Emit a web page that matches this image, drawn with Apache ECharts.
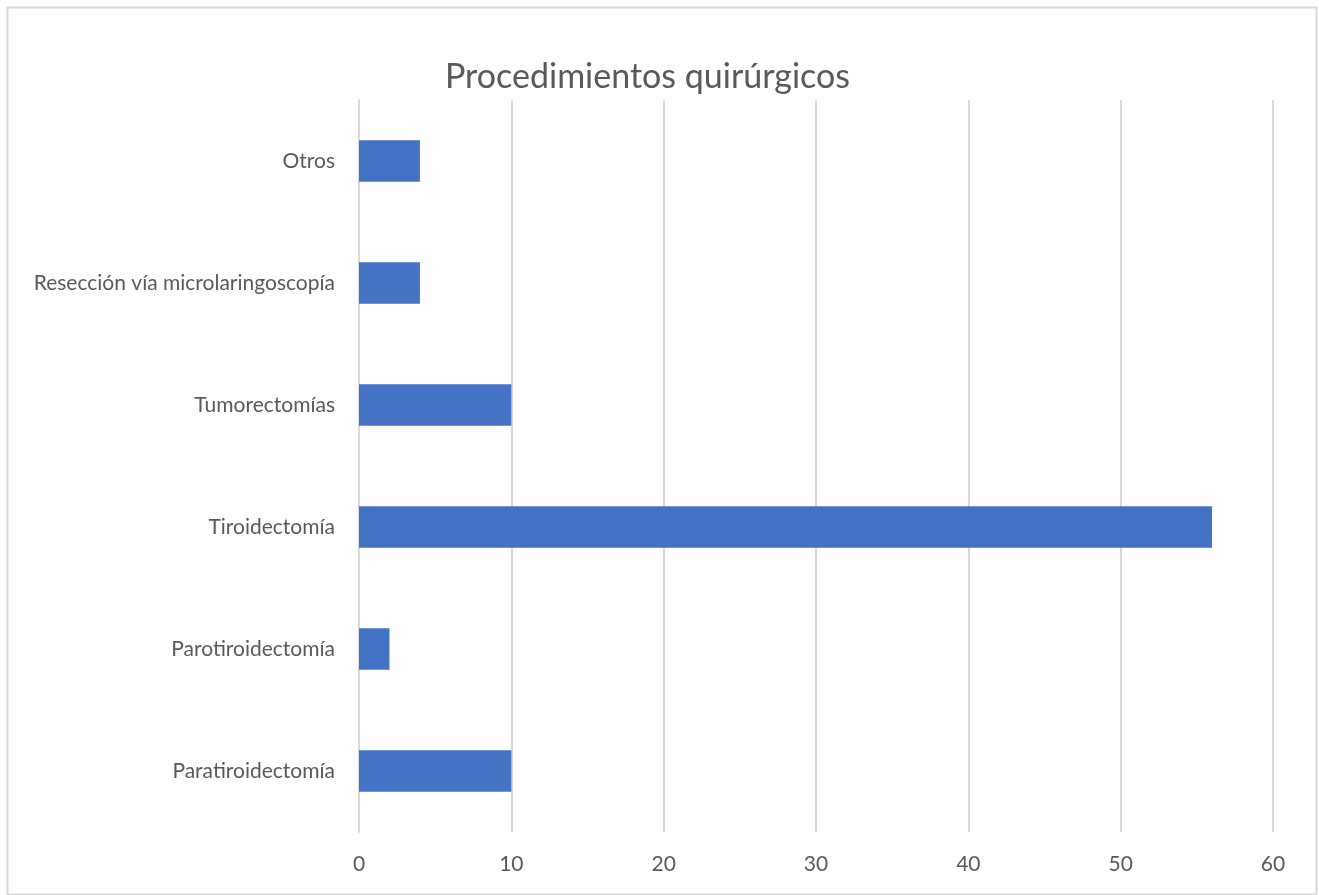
<!DOCTYPE html>
<html>
<head>
<meta charset="utf-8">
<script src="https://cdn.jsdelivr.net/npm/echarts@6/dist/echarts.min.js"></script>
<style>
  html, body { margin: 0; padding: 0; background: #fff; }
  #chart { width: 1319px; height: 895px; }
</style>
</head>
<body>
<div id="chart"></div>
<script>
// Procedures, listed bottom to top as the category axis draws them
const categories = [
  'Paratiroidectomía',
  'Parotiroidectomía',
  'Tiroidectomía',
  'Tumorectomías',
  'Resección vía microlaringoscopía',
  'Otros'
];
const counts = [10, 2, 56, 10, 4, 4];
const axisMin = 0;
const axisMax = 60;
const axisStep = 10;

const FONT = 'Lato, "Open Sans", sans-serif';
const chart = echarts.init(document.getElementById('chart'));
chart.setOption({
  animation: false,
  backgroundColor: '#ffffff',
  graphic: [{
    type: 'rect',
    left: 5, top: 5,
    shape: { width: 1309, height: 887 },
    style: { fill: 'none', stroke: '#d9d9d9', lineWidth: 2 },
    silent: true
  }],
  title: {
    text: 'Procedimientos quirúrgicos',
    left: 445,
    top: 60,
    padding: [0, 0, 0, 0],
    textStyle: { fontFamily: FONT, fontSize: 34, fontWeight: 'normal', color: '#595959' }
  },
  grid: { left: 359, right: 46, top: 100, bottom: 63, containLabel: false },
  xAxis: {
    type: 'value',
    min: axisMin,
    max: axisMax,
    interval: axisStep,
    axisLine: { show: false },
    axisTick: { show: false },
    axisLabel: { fontFamily: FONT, fontSize: 21, color: '#595959', margin: 22 },
    splitLine: { show: true, lineStyle: { color: '#d9d9d9', width: 2 } }
  },
  yAxis: {
    type: 'category',
    data: categories,
    axisLine: { show: true, lineStyle: { color: '#d9d9d9', width: 2 } },
    axisTick: { show: false },
    axisLabel: { fontFamily: FONT, fontSize: 21, color: '#595959', margin: 24 }
  },
  series: [{
    type: 'bar',
    data: counts,
    barCategoryGap: '66%',
    itemStyle: { color: '#4472c4' }
  }]
});
</script>
</body>
</html>
